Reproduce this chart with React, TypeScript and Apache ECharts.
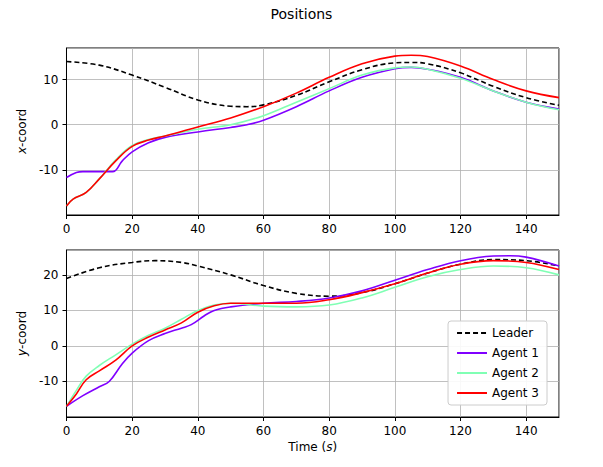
import { useEffect, useRef } from "react"
import * as echarts from "echarts"

const xLeaderTop = [[0,14],[10,13.2],[20,11],[30,8.3],[40,5.5],[50,4.1],[55,4.0],[60,4.4],[70,6.5],[80,9.5],[90,12.2],[100,13.7],[105,13.8],[110,13.5],[120,11.5],[130,8.5],[140,6],[150,4.3]]
const xAgent1 = [[0,-11.7],[3,-10.6],[5,-10.4],[14,-10.4],[17,-8],[20,-6],[25,-4],[30,-2.8],[40,-1.6],[50,-0.6],[55,0],[60,1],[70,4],[80,7.5],[90,10.5],[100,12.4],[105,12.7],[110,12.3],[120,10.5],[130,7.5],[140,5],[150,3.5]]
const xAgent2 = [[0,-18],[2,-16.5],[6,-15],[10,-12],[15,-7.8],[20,-4.6],[25,-3.3],[30,-2.5],[40,-1],[50,0],[60,2],[70,5],[80,8],[90,11],[100,12.6],[105,12.8],[110,12.3],[120,10.3],[130,7.5],[140,5],[150,3.3]]
const xAgent3 = [[0,-18],[2,-16.5],[6,-15],[10,-12],[15,-8],[20,-4.8],[25,-3.4],[30,-2.5],[40,-0.5],[50,1.5],[60,4],[70,7],[80,10.5],[90,13.5],[100,15.2],[105,15.4],[110,15.1],[120,13],[130,10],[140,7.5],[150,6]]

const yLeader = [[0,19],[10,22],[20,23.5],[27,24],[35,23.5],[40,22.5],[50,20],[60,17],[70,14.8],[80,14],[90,15],[100,17.5],[110,20.5],[120,23],[130,24.3],[140,24],[150,22.5]]
const yAgent1 = [[0,-17],[5,-14],[10,-11.5],[13,-10],[17,-5],[20,-2],[25,1.5],[30,3.5],[35,5],[38,6],[42,8.5],[45,10],[50,11],[60,12],[70,12.5],[80,13.5],[90,15.5],[100,18.5],[110,21.5],[120,24],[130,25.3],[135,25.4],[140,25],[150,22.5]]
const yAgent2 = [[0,-17],[3,-12.5],[6,-8.5],[10,-5.5],[15,-2.5],[20,0.5],[25,3],[30,5],[35,7.5],[40,10],[45,11.5],[50,12],[60,11.2],[70,11],[80,11.5],[90,13.5],[100,16.5],[110,19.5],[120,21.5],[130,22.5],[140,22],[150,20]]
const yAgent3 = [[0,-17],[3,-13.5],[6,-9.5],[10,-7],[15,-4],[20,0],[25,2.5],[30,4.5],[35,6.5],[40,9.5],[45,11.3],[50,12],[60,12],[70,12],[80,13],[90,15],[100,17.5],[110,20.5],[120,23],[130,24],[140,23.5],[150,21.5]]

const names = ["Leader", "Agent 1", "Agent 2", "Agent 3"]
const colors = ["#000000", "#8000ff", "#80ffb4", "#ff0000"]

export default function App() {
  const ref = useRef<HTMLDivElement>(null)

  useEffect(() => {
    if (!ref.current) return
    const chart = echarts.init(ref.current, null, { renderer: "svg" })
    const font = "DejaVu Sans"
    const axisText = { color: "#000", fontFamily: font, fontSize: 12 }
    const xAxisBase = {
      type: "value" as const, min: 0, max: 150, interval: 20,
      axisLine: { onZero: false, lineStyle: { color: "#000" } },
      axisTick: { length: 4, lineStyle: { color: "#000" } },
      axisLabel: { ...axisText, showMaxLabel: false },
      splitLine: { lineStyle: { color: "#b0b0b0", width: 0.8 } },
    }
    const yAxisBase = {
      type: "value" as const, interval: 10,
      axisLine: { show: true, lineStyle: { color: "#000" } },
      axisTick: { show: true, length: 4, lineStyle: { color: "#000" } },
      axisLabel: { ...axisText, showMinLabel: false, showMaxLabel: false },
      splitLine: { lineStyle: { color: "#b0b0b0", width: 0.8 } },
      nameLocation: "middle" as const, nameGap: 36,
      nameTextStyle: { ...axisText, rich: { i: { ...axisText, fontStyle: "italic" } } },
    }
    const mk = (data: number[][], i: number, ax: number) => ({
      name: names[i], type: "line", data, smooth: 0.4, symbol: "none",
      xAxisIndex: ax, yAxisIndex: ax,
      lineStyle: { color: colors[i], width: 1.6, type: i === 0 ? [5, 3] : "solid" },
      itemStyle: { color: colors[i] },
    })
    chart.setOption({
      animation: false,
      title: { text: "Positions", left: "center", top: -6, textStyle: { fontFamily: font, fontSize: 14, fontWeight: "normal", color: "#000" } },
      grid: [
        { left: 55, right: 36, top: 40, height: 167, show: true, borderColor: "#000", borderWidth: 1 },
        { left: 55, right: 36, top: 242, height: 167, show: true, borderColor: "#000", borderWidth: 1 },
      ],
      xAxis: [
        { ...xAxisBase, gridIndex: 0 },
        {
          ...xAxisBase, gridIndex: 1, name: "Time ({i|s})", nameLocation: "middle", nameGap: 24,
          nameTextStyle: { ...axisText, rich: { i: { ...axisText, fontStyle: "italic" } } },
        },
      ],
      yAxis: [
        { ...yAxisBase, gridIndex: 0, min: -20, max: 17, name: "{i|x}-coord" },
        { ...yAxisBase, gridIndex: 1, min: -20, max: 27, name: "{i|y}-coord" },
      ],
      legend: {
        data: names.map((n) => ({ name: n, itemStyle: { opacity: 0 } })),
        orient: "vertical", right: 48, bottom: 54,
        itemWidth: 30, itemHeight: 10, itemGap: 8,
        textStyle: { ...axisText },
        backgroundColor: "rgba(255,255,255,0.9)", borderColor: "#ccc", borderWidth: 1, borderRadius: 3, padding: [6, 8],
      },
      series: [
        mk(xLeaderTop, 0, 0), mk(xAgent1, 1, 0), mk(xAgent2, 2, 0), mk(xAgent3, 3, 0),
        mk(yLeader, 0, 1), mk(yAgent1, 1, 1), mk(yAgent2, 2, 1), mk(yAgent3, 3, 1),
      ],
    })
    return () => chart.dispose()
  }, [])

  return <div ref={ref} style={{ width: 587, height: 451 }} />
}
